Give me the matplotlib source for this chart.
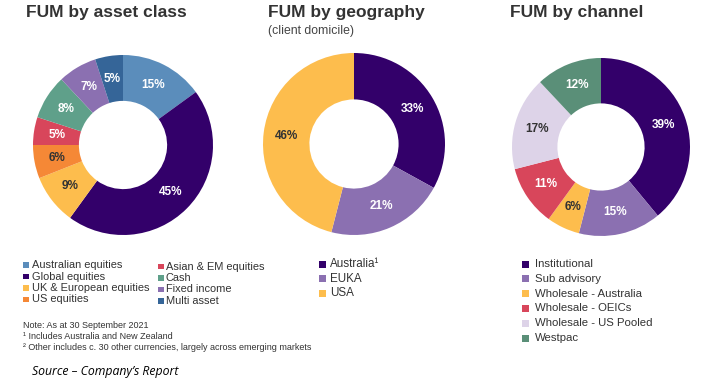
import matplotlib
matplotlib.use("Agg")
import matplotlib.pyplot as plt
from matplotlib.patches import Rectangle
import numpy as np

W, H = 707, 385

asset_labels = ["Australian equities", "Global equities", "UK & European equities", "US equities",
                "Asian & EM equities", "Cash", "Fixed income", "Multi asset"]
asset_values = [15, 45, 9, 6, 5, 8, 7, 5]
asset_colors = ["#5b8dbb", "#33006a", "#fdbd4d", "#f58836", "#d8465b", "#5fa08a", "#8b70b1", "#356598"]

geo_labels = ["Australia\u00b9", "EUKA", "USA"]
geo_values = [33, 21, 46]
geo_colors = ["#33006a", "#8b70b1", "#fdbd4d"]

chan_labels = ["Institutional", "Sub advisory", "Wholesale - Australia", "Wholesale - OEICs",
               "Wholesale - US Pooled", "Westpac"]
chan_values = [39, 15, 6, 11, 17, 12]
chan_colors = ["#33006a", "#8b70b1", "#fdbd4d", "#d8465b", "#ddd3e8", "#5a8f78"]

notes = ["Note: As at 30 September 2021",
         "\u00b9 Includes Australia and New Zealand",
         "\u00b2 Other includes c. 30 other currencies, largely across emerging markets"]

DARK_TEXT = {"#fdbd4d", "#f58836", "#ddd3e8"}
plt.rcParams["font.family"] = ["Liberation Sans", "DejaVu Sans"]

fig = plt.figure(figsize=(W / 100, H / 100), dpi=100)
fig.patch.set_facecolor("white")


def px_axes(x, y, w, h):
    return fig.add_axes([x / W, 1 - (y + h) / H, w / W, h / H])


def donut(cx, cy, r, values, colors, inner=0.49):
    ax = px_axes(cx - r, cy - r, 2 * r, 2 * r)
    wedges, _ = ax.pie(values, colors=colors, startangle=90, counterclock=False, radius=1,
                       wedgeprops=dict(width=1 - inner, linewidth=0))
    ax.set_xlim(-1, 1)
    ax.set_ylim(-1, 1)
    ax.set_aspect("equal")
    ax.axis("off")
    lr = (1 + inner) / 2
    for wdg, v, c in zip(wedges, values, colors):
        ang = np.deg2rad((wdg.theta1 + wdg.theta2) / 2)
        ax.text(lr * np.cos(ang), lr * np.sin(ang), f"{v}%", ha="center", va="center",
                fontsize=8.5, fontweight="bold",
                color="#333333" if c in DARK_TEXT else "white")
    return ax


donut(123, 145, 90, asset_values, asset_colors)
donut(354, 144, 91, geo_values, geo_colors)
donut(601, 147, 89, chan_values, chan_colors)

# overlay in pixel coordinates for titles, legends and notes
ov = fig.add_axes([0, 0, 1, 1])
ov.set_xlim(0, W)
ov.set_ylim(H, 0)
ov.axis("off")
ov.patch.set_alpha(0)

ov.text(26, 13, "FUM by asset class", fontsize=12.5, color="#333333", va="center", fontweight="bold")
ov.text(268, 13, "FUM by geography", fontsize=12.5, color="#333333", va="center", fontweight="bold")
ov.text(268, 31, "(client domicile)", fontsize=8.8, color="#444444", va="center")
ov.text(510, 13, "FUM by channel", fontsize=12.5, color="#333333", va="center", fontweight="bold")


def legend(x, y0, dy, labels, colors, size=7.9, gap=9, box=7):
    for i, (lab, col) in enumerate(zip(labels, colors)):
        y = y0 + i * dy
        ov.add_patch(Rectangle((x, y - box / 2), box, box, color=col, lw=0))
        ov.text(x + gap, y, lab, fontsize=size, color="#333333", va="center")


legend(23, 265, 11.5, asset_labels[:4], asset_colors[:4], box=5.5)
legend(158, 266.5, 11.5, asset_labels[4:], asset_colors[4:], gap=8, box=5.5)
legend(319, 264, 14.5, geo_labels, geo_colors, size=8.4, gap=11)
legend(522, 264, 14.8, chan_labels, chan_colors, size=8.2, gap=13)

for i, line in enumerate(notes):
    ov.text(23, 325 + i * 11.5, line, fontsize=6.5, color="#333333", va="center")
ov.text(32, 372, "Source \u2013 Company\u2019s Report", fontsize=8.8, color="black", va="center",
        style="italic", family=["Open Sans", "DejaVu Sans"])

fig.savefig("out.png", dpi=100)
